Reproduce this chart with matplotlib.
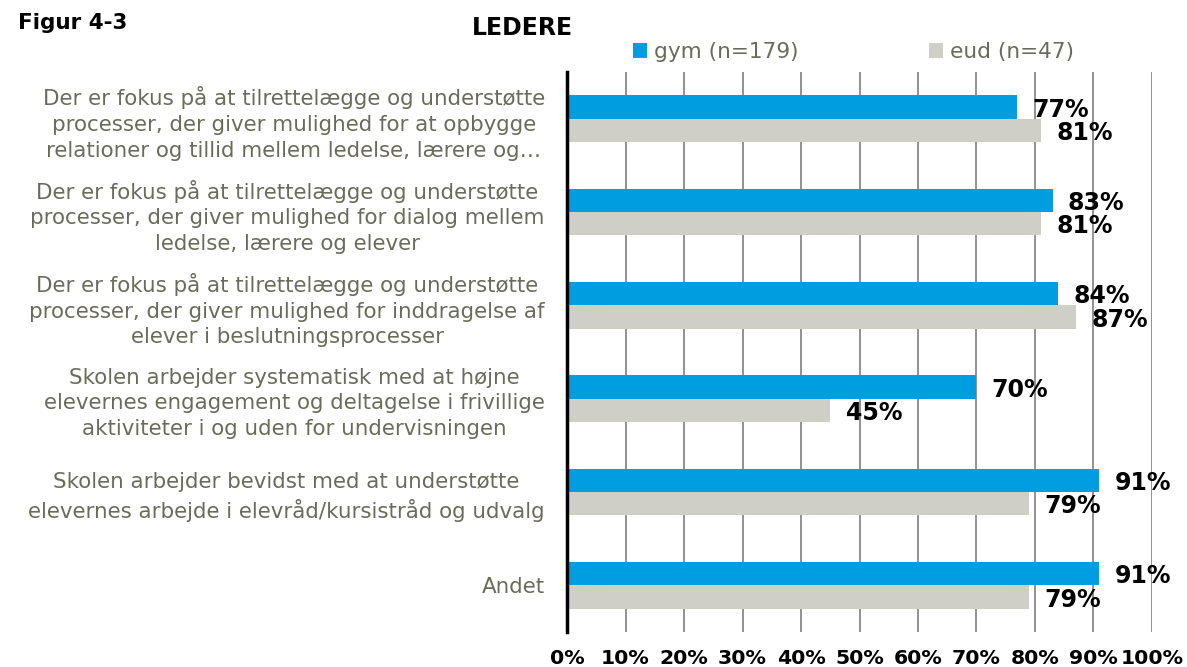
import numpy as np
import matplotlib
matplotlib.use("Agg")
import matplotlib.pyplot as plt
from matplotlib.patches import Patch

plt.rcParams['font.family'] = ['DejaVu Sans']

# Survey answers, share of leaders agreeing (in %)
categories = [
    "Der er fokus på at tilrettelægge og understøtte\nprocesser, der giver mulighed for at opbygge\nrelationer og tillid mellem ledelse, lærere og…",
    "Der er fokus på at tilrettelægge og understøtte\nprocesser, der giver mulighed for dialog mellem\nledelse, lærere og elever",
    "Der er fokus på at tilrettelægge og understøtte\nprocesser, der giver mulighed for inddragelse af\nelever i beslutningsprocesser",
    "Skolen arbejder systematisk med at højne\nelevernes engagement og deltagelse i frivillige\naktiviteter i og uden for undervisningen",
    "Skolen arbejder bevidst med at understøtte\nelevernes arbejde i elevråd/kursistråd og udvalg",
    "Andet",
]
gym = [77, 83, 84, 70, 91, 91]
eud = [81, 81, 87, 45, 79, 79]
series_names = ["gym (n=179)", "eud (n=47)"]
xticks = [0, 10, 20, 30, 40, 50, 60, 70, 80, 90, 100]

blue = "#009EE0"
grey = "#D0CFC7"
text_grey = "#6B6B5B"

fig = plt.figure(figsize=(11.87, 6.67), dpi=100)
ax = fig.add_axes([0.4777, 0.0525, 0.4928, 0.8395])

y = np.arange(len(categories))
h = 0.25
ax.barh(y - h / 2, gym, height=h, color=blue, zorder=3)
ax.barh(y + h / 2, eud, height=h, color=grey, zorder=3)

ax.set_xlim(0, 100)
ax.set_ylim(len(categories) - 0.5, -0.5)

# value labels to the right of each bar
for yi, v in zip(y, gym):
    ax.annotate(f"{v}%", (v, yi - h / 2), xytext=(11, -2), textcoords="offset points",
                ha="left", va="center", fontsize=17, fontweight="bold", color="black", zorder=4)
for yi, v in zip(y, eud):
    ax.annotate(f"{v}%", (v, yi + h / 2), xytext=(11, -2), textcoords="offset points",
                ha="left", va="center", fontsize=17, fontweight="bold", color="black", zorder=4)

ax.set_xticks(xticks)
ax.set_xticklabels([f"{t}%" for t in xticks], fontsize=14.7, fontweight="bold")
ax.set_yticks(y)
ax.set_yticklabels(categories, fontsize=15.4, color=text_grey, multialignment="center",
                   linespacing=1.35)
ax.tick_params(axis="y", length=0, pad=16)
ax.tick_params(axis="x", length=0, pad=12)

for s in ["top", "right", "bottom"]:
    ax.spines[s].set_visible(False)
ax.spines["left"].set_linewidth(2.5)
ax.spines["left"].set_color("black")
ax.spines["left"].set_zorder(5)

ax.grid(axis="x", color="#7F7F7F", linewidth=1.2, zorder=0)
ax.set_axisbelow(True)

handles = [Patch(facecolor=blue), Patch(facecolor=grey)]
fig.legend(handles, series_names, loc="center left", bbox_to_anchor=(0.517, 0.922),
           ncol=2, frameon=False, fontsize=15.6, labelcolor=text_grey,
           handlelength=0.65, handleheight=0.65, handletextpad=0.3, columnspacing=6.05)

fig.text(0.015, 0.966, "Figur 4-3", fontsize=15.5, fontweight="bold", va="center", ha="left")
fig.text(0.44, 0.958, "LEDERE", fontsize=17, fontweight="bold", va="center", ha="center")

fig.savefig("out.png", dpi=100)
